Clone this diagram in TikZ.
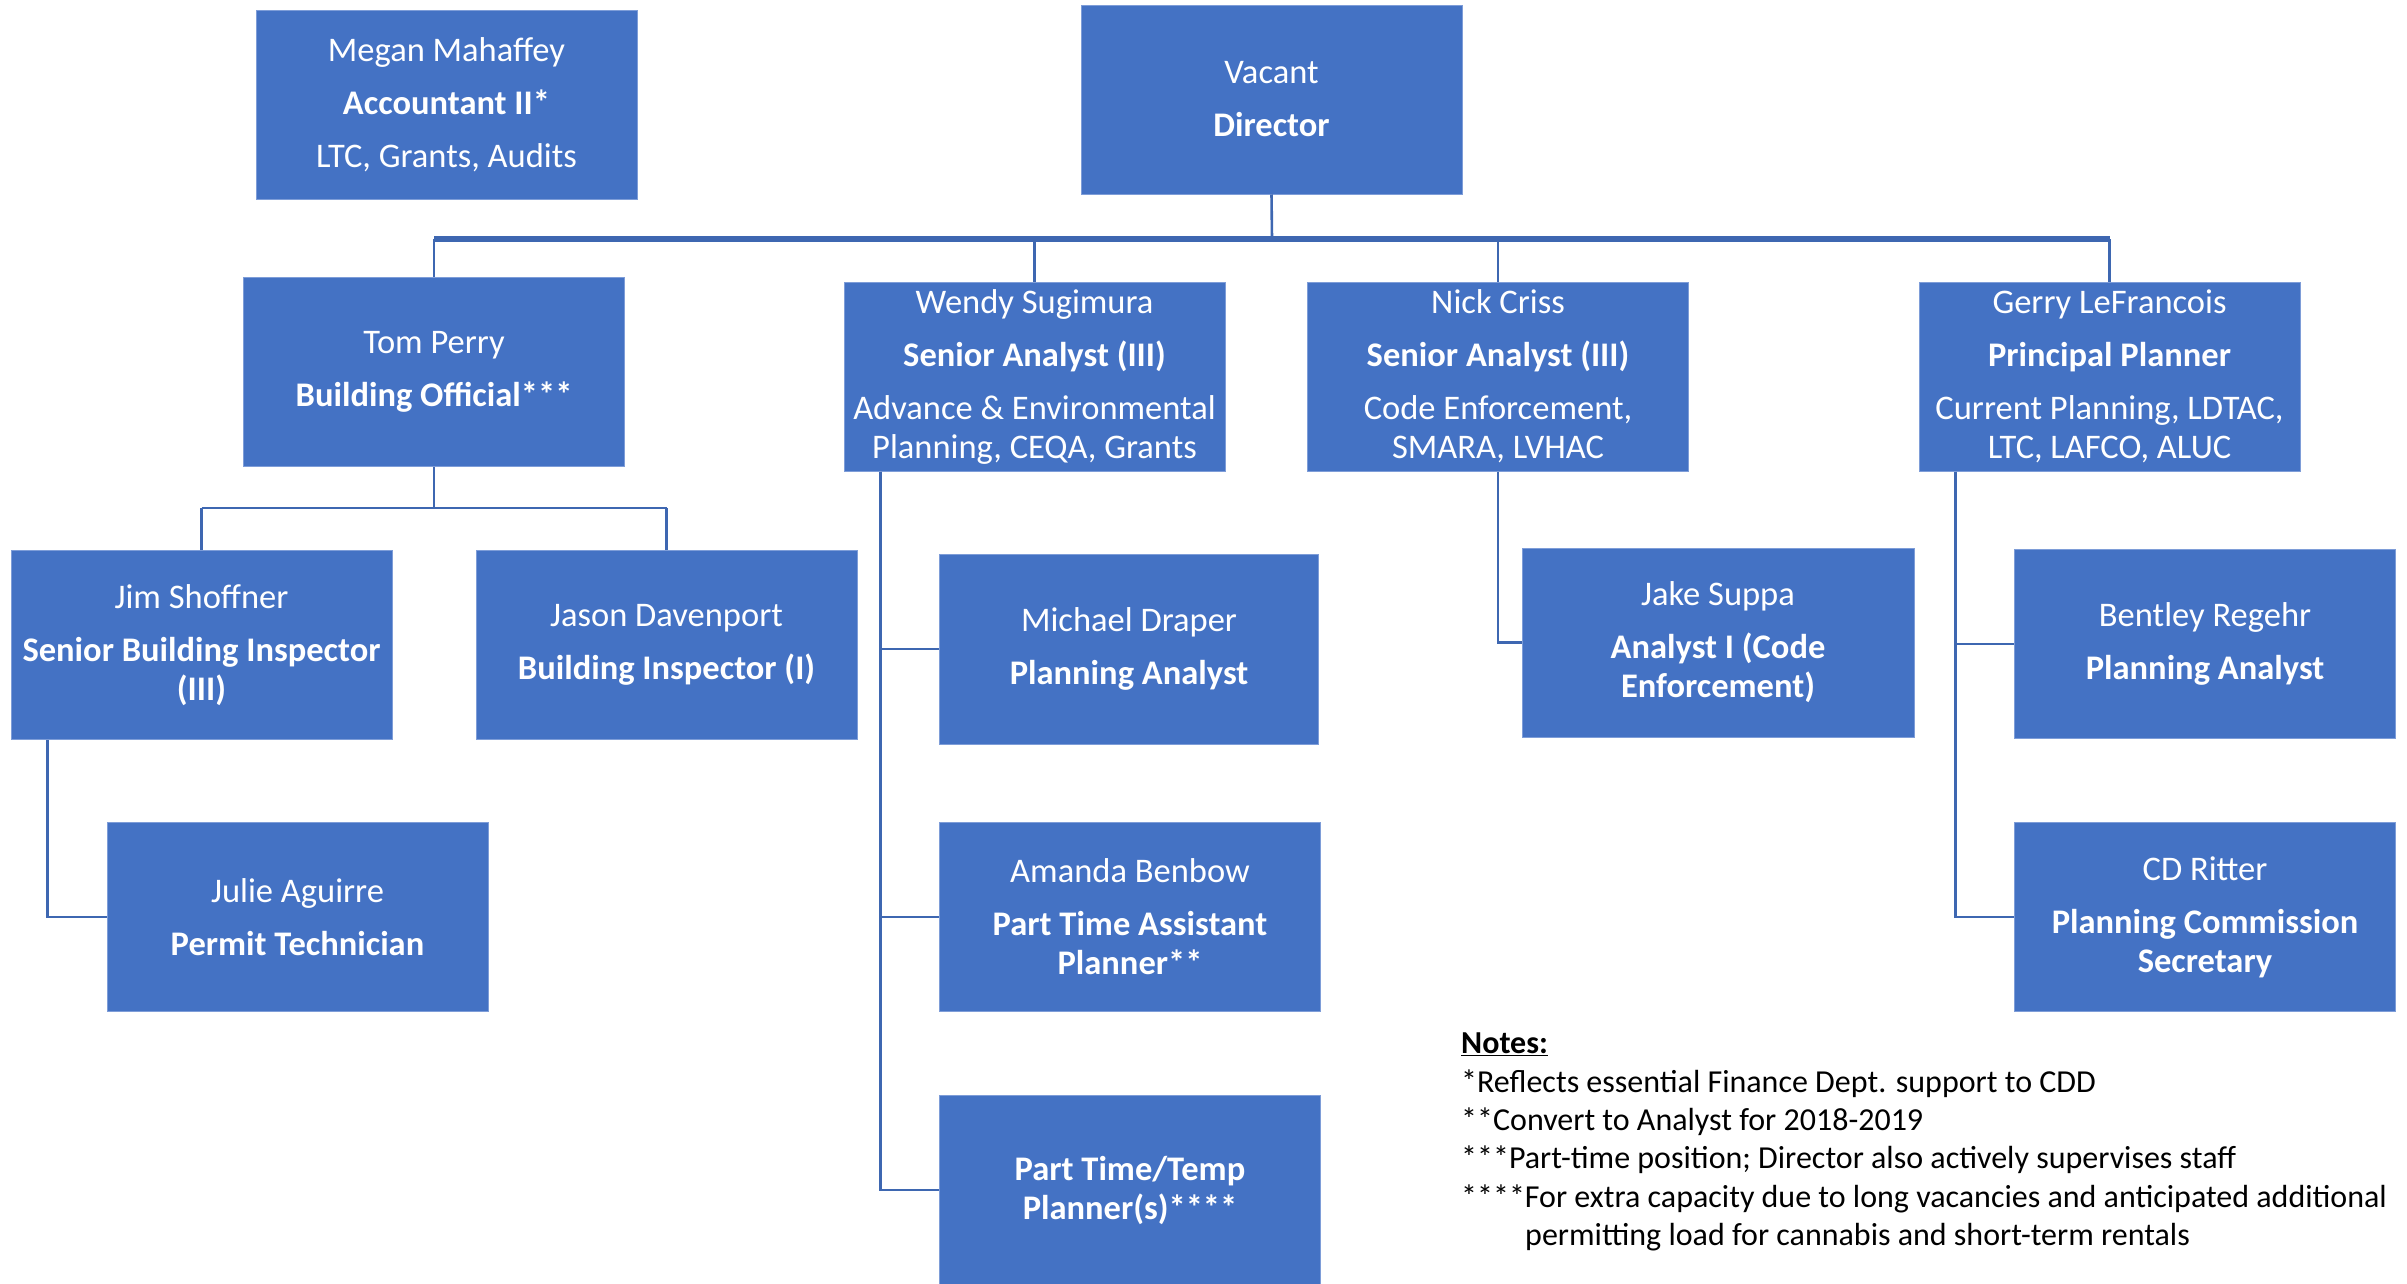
\documentclass[tikz,border=0pt]{standalone}
\usepackage{fontspec}
\setmainfont{Carlito}
\definecolor{boxblue}{HTML}{4472C4}
\definecolor{boxedge}{HTML}{7E9DD8}
\definecolor{linkblue}{HTML}{3E67B1}
\begin{document}
\begin{tikzpicture}[x=1pt,y=-1pt,
  box/.style={fill=boxblue, draw=boxedge, line width=1pt, text=white, align=center,
    inner sep=0pt, minimum width=381pt, minimum height=189pt,
    font=\fontsize{34.5}{39}\selectfont},
  link/.style={draw=linkblue, line width=2.6pt},
  trunk/.style={draw=linkblue, line width=6.5pt}]

\useasboundingbox (0,0) rectangle (2407,1283);

% top row
\node[box] (megan) at (446.5,104.5) {Megan Mahaffey\\[14pt]\textbf{Accountant II*}\\[14pt]LTC, Grants, Audits};
\node[box] (director) at (1271.5,99.5) {Vacant\\[14pt]\textbf{Director}};

% second row
\node[box] (tom) at (434,372) {Tom Perry\\[14pt]\textbf{Building Official***}};
\node[box] (wendy) at (1034.5,376.5) {Wendy Sugimura\\[14pt]\textbf{Senior Analyst (III)}\\[14pt]Advance \& Environmental\\Planning, CEQA, Grants};
\node[box] (nick) at (1498,376.5) {Nick Criss\\[14pt]\textbf{Senior Analyst (III)}\\[14pt]Code Enforcement,\\SMARA, LVHAC};
\node[box] (gerry) at (2109.5,376.5) {Gerry LeFrancois\\[14pt]\textbf{Principal Planner}\\[14pt]Current Planning, LDTAC,\\LTC, LAFCO, ALUC};

% building
\node[box] (jim) at (201.5,645) {Jim Shoffner\\[14pt]\textbf{Senior Building Inspector}\\\textbf{(III)}};
\node[box] (jason) at (666.5,645) {Jason Davenport\\[14pt]\textbf{Building Inspector (I)}};
\node[box] (julie) at (297.5,917) {Julie Aguirre\\[14pt]\textbf{Permit Technician}};

% planning
\node[box, minimum width=379pt, minimum height=190pt] (michael) at (1129,649) {Michael Draper\\[14pt]\textbf{Planning Analyst}};
\node[box] (amanda) at (1130,917) {Amanda Benbow\\[14pt]\textbf{Part Time Assistant}\\\textbf{Planner**}};
\node[box, minimum height=190pt] (temp) at (1130,1190) {\textbf{Part Time/Temp}\\\textbf{Planner(s)****}};

% code enforcement
\node[box, minimum width=392pt] (jake) at (1718,642.5) {Jake Suppa\\[14pt]\textbf{Analyst I (Code}\\\textbf{Enforcement)}};

% current planning
\node[box] (bentley) at (2205,644) {Bentley Regehr\\[14pt]\textbf{Planning Analyst}};
\node[box] (ritter) at (2205,917) {CD Ritter\\[14pt]\textbf{Planning Commission}\\\textbf{Secretary}};

% connectors
\coordinate (hub) at (1272,239);
\coordinate (tomhub) at (434,508);

\draw[trunk] (hub -| tom.north) -- (hub -| gerry.north);
\draw[link] (director.south) -- (hub);
\draw[link] (hub -| tom.north) -- (tom.north);
\draw[link] (hub -| wendy.north) -- (wendy.north);
\draw[link] (hub -| nick.north) -- (nick.north);
\draw[link] (hub -| gerry.north) -- (gerry.north);

\draw[link] (tom.south) -- (tomhub);
\draw[link] (tomhub -| jim.north) -- (tomhub -| jason.north);
\draw[link] (tomhub -| jim.north) -- (jim.north);
\draw[link] (tomhub -| jason.north) -- (jason.north);
\draw[link] ([xshift=37]jim.south west) |- (julie.west);

\draw[link] ([xshift=37]wendy.south west) |- (temp.west);
\draw[link] ([xshift=37]wendy.south west) |- (michael.west);
\draw[link] ([xshift=37]wendy.south west) |- (amanda.west);

\draw[link] (nick.south) |- (jake.west);

\draw[link] ([xshift=37]gerry.south west) |- (ritter.west);
\draw[link] ([xshift=37]gerry.south west) |- (bentley.west);

% notes
\node[anchor=north west, align=left, inner sep=0pt, font=\fontsize{32}{38.3}\selectfont] (notes) at (1461,1033)
  {\underline{\textbf{Notes:}}\\
   *Reflects essential Finance Dept. support to CDD\\
   **Convert to Analyst for 2018-2019\\
   ***Part-time position; Director also actively supervises staff\\
   ****For extra capacity due to long vacancies and anticipated additional\\
   \hspace*{64pt}permitting load for cannabis and short-term rentals};

\end{tikzpicture}
\end{document}
